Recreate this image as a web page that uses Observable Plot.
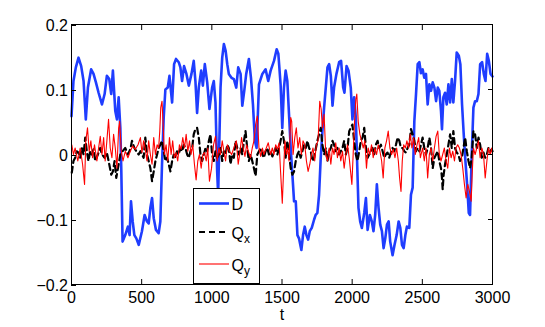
<!DOCTYPE html>
<html><head><meta charset="utf-8">
<script src="https://cdn.jsdelivr.net/npm/d3@7"></script>
<script src="https://cdn.jsdelivr.net/npm/@observablehq/plot@0.6"></script>
<style>
body{margin:0;background:#fff;}
#wrap{position:relative;width:545px;height:327px;font-family:"Liberation Sans",Arial,sans-serif;}
#legend{position:absolute;left:192px;top:188px;}
</style></head><body><div id="wrap"></div>
<script>
const D = [[0,0.059],[14,0.113],[31,0.134],[50,0.149],[69,0.136],[86,0.113],[102,0.054],[117,0.103],[140,0.131],[157,0.124],[174,0.111],[193,0.095],[217,0.077],[236,0.093],[252,0.121],[269,0.116],[283,0.093],[295,0.129],[312,0.067],[324,0.054],[336,0.088],[348,0.041],[355,-0.026],[364,-0.134],[383,-0.124],[402,-0.111],[414,-0.124],[424,-0.072],[436,-0.103],[448,-0.124],[462,-0.129],[479,-0.139],[502,-0.118],[521,-0.093],[538,-0.103],[550,-0.106],[562,-0.082],[574,-0.067],[586,-0.098],[602,-0.116],[621,-0.121],[633,-0.103],[645,-0.015],[657,0.057],[669,0.100],[686,0.103],[698,0.121],[717,0.080],[731,0.139],[745,0.147],[764,0.142],[776,0.134],[788,0.113],[802,0.136],[819,0.124],[836,0.106],[855,0.124],[871,0.144],[883,0.113],[895,0.064],[907,0.103],[924,0.129],[936,0.106],[950,0.139],[967,0.111],[983,0.070],[1002,0.103],[1014,0.113],[1026,0.080],[1038,-0.026],[1045,-0.062],[1062,0.103],[1074,0.149],[1086,0.170],[1098,0.160],[1110,0.139],[1121,0.124],[1140,0.118],[1157,0.116],[1174,0.103],[1188,0.134],[1205,0.124],[1217,0.075],[1231,0.098],[1245,0.124],[1264,0.147],[1279,0.118],[1293,0.077],[1307,0.021],[1319,0.010],[1336,0.108],[1360,0.124],[1383,0.131],[1402,0.113],[1419,0.129],[1443,0.144],[1462,0.162],[1474,0.155],[1490,0.108],[1502,0.041],[1514,0.103],[1526,0.129],[1538,0.113],[1550,0.062],[1562,0.010],[1574,-0.031],[1586,-0.072],[1598,-0.072],[1610,-0.124],[1621,-0.129],[1638,-0.147],[1650,-0.124],[1662,-0.111],[1674,-0.124],[1686,-0.131],[1698,-0.118],[1712,-0.113],[1729,-0.100],[1740,-0.093],[1752,-0.090],[1764,-0.062],[1776,-0.005],[1788,0.036],[1800,0.072],[1812,0.103],[1824,0.134],[1836,0.139],[1848,0.121],[1860,0.075],[1871,0.103],[1888,0.124],[1907,0.142],[1921,0.144],[1936,0.103],[1945,0.095],[1960,0.136],[1974,0.129],[1990,0.103],[2002,0.054],[2014,0.088],[2026,0.057],[2045,-0.082],[2057,-0.103],[2069,-0.113],[2086,-0.090],[2098,-0.067],[2110,-0.116],[2126,-0.093],[2140,-0.103],[2152,-0.118],[2164,-0.093],[2176,-0.046],[2188,-0.082],[2200,-0.108],[2212,-0.118],[2224,-0.144],[2236,-0.129],[2248,-0.108],[2260,-0.103],[2271,-0.134],[2288,-0.155],[2302,-0.139],[2317,-0.124],[2331,-0.103],[2343,-0.113],[2355,-0.139],[2367,-0.144],[2379,-0.124],[2390,-0.111],[2407,-0.113],[2419,-0.062],[2431,-0.051],[2443,0.051],[2455,0.093],[2467,0.139],[2479,0.142],[2490,0.125],[2502,0.131],[2514,0.118],[2526,0.124],[2538,0.077],[2550,0.108],[2562,0.098],[2574,0.111],[2586,0.103],[2598,0.082],[2610,0.103],[2621,0.098],[2633,0.067],[2640,0.039],[2650,0.088],[2662,0.095],[2674,0.077],[2686,0.108],[2698,0.080],[2710,0.116],[2721,0.080],[2733,0.113],[2745,0.157],[2760,0.152],[2771,0.139],[2783,0.077],[2795,0.031],[2807,-0.010],[2819,-0.046],[2831,-0.090],[2840,-0.093],[2852,0.000],[2864,0.072],[2876,0.082],[2888,0.082],[2900,0.093],[2912,0.139],[2926,0.142],[2938,0.124],[2950,0.113],[2962,0.155],[2974,0.144],[2986,0.124],[3000,0.120]];

const Qx = [[2,-0.028],[14,-0.010],[26,-0.005],[38,0.005],[50,0.003],[62,-0.005],[74,0.010],[86,0],[98,0.026],[109,0.005],[121,-0.010],[133,0.005],[145,0],[157,0.008],[169,-0.010],[188,0],[205,0.010],[217,0],[236,-0.005],[252,0.003],[269,-0.015],[283,-0.031],[295,-0.026],[307,-0.010],[319,-0.036],[331,-0.021],[348,0],[364,0.005],[383,0.010],[402,0],[419,0.008],[431,0.021],[448,0.010],[467,0.003],[479,0],[491,0.005],[502,0],[514,-0.005],[526,0.026],[538,0],[550,-0.010],[562,-0.021],[574,-0.041],[586,-0.026],[598,-0.010],[610,0],[621,0.010],[633,0.015],[645,0.021],[657,0.005],[669,-0.010],[681,-0.005],[693,-0.015],[705,-0.026],[717,-0.010],[729,0],[740,-0.005],[752,0.005],[764,0],[776,0.010],[788,0.005],[800,0.015],[812,0.010],[824,0],[836,-0.005],[848,0.005],[860,0.010],[871,0.031],[883,0.039],[895,0.041],[907,0.026],[919,0],[931,-0.010],[943,0],[955,0.010],[967,0.005],[979,0.021],[990,0.031],[1002,0],[1014,-0.010],[1026,0.005],[1038,-0.005],[1050,0],[1062,0.010],[1074,-0.010],[1086,0.005],[1098,0],[1110,0.015],[1121,0.010],[1133,-0.015],[1145,0],[1157,-0.005],[1169,0.021],[1181,0.010],[1193,0],[1205,0.010],[1217,0],[1229,0.021],[1240,0.036],[1252,0.010],[1264,-0.010],[1276,0],[1288,-0.010],[1300,-0.021],[1312,-0.033],[1324,0],[1336,0.005],[1348,0.010],[1360,0],[1371,-0.005],[1383,0.005],[1395,0.010],[1407,0],[1419,0.005],[1431,-0.003],[1443,0.003],[1455,0.010],[1467,0],[1479,0.010],[1490,0.021],[1502,0.036],[1514,0.021],[1526,-0.005],[1538,0.021],[1550,0],[1562,-0.021],[1574,-0.031],[1586,-0.026],[1598,-0.010],[1610,0],[1621,0.005],[1633,-0.005],[1645,0.005],[1657,0.015],[1669,0.010],[1681,0.021],[1693,0.010],[1705,0.005],[1717,-0.010],[1729,-0.005],[1740,0.008],[1752,0.021],[1764,0.031],[1776,0.041],[1788,0.015],[1800,0],[1812,0.010],[1824,-0.010],[1836,0.005],[1848,0.010],[1860,0.021],[1871,0.015],[1883,0.005],[1895,0.010],[1907,0],[1919,0.005],[1931,0.010],[1943,0.021],[1955,0],[1967,0.010],[1979,0.036],[1990,0.041],[2002,0.046],[2014,0.021],[2026,0],[2038,-0.010],[2050,0.005],[2062,0.021],[2074,0.026],[2086,0.041],[2098,0.010],[2110,-0.005],[2121,0],[2133,0.005],[2145,0.010],[2157,0],[2169,0.015],[2181,0.021],[2193,0.010],[2205,0.015],[2217,0.005],[2229,-0.005],[2240,0],[2252,0.003],[2264,-0.005],[2276,0.003],[2288,0.010],[2300,0.005],[2312,0.015],[2324,0.026],[2336,0.021],[2348,0.010],[2360,0.010],[2371,0.005],[2383,0.003],[2395,0.010],[2407,0.015],[2419,0.039],[2431,0.031],[2443,0.021],[2455,0.005],[2467,0.010],[2479,0.005],[2490,0.015],[2502,0.026],[2514,0.010],[2526,0],[2538,0.010],[2550,0.026],[2562,0.010],[2574,-0.021],[2586,-0.005],[2598,0],[2610,0.005],[2621,-0.010],[2633,-0.021],[2640,-0.036],[2645,-0.054],[2652,-0.031],[2662,-0.015],[2674,0],[2686,0.015],[2698,0.031],[2710,0.010],[2721,0.036],[2733,0.010],[2745,0.003],[2757,0],[2769,-0.010],[2781,-0.005],[2793,0.010],[2805,0.026],[2817,0.005],[2829,-0.010],[2840,-0.021],[2852,-0.005],[2864,0.036],[2876,0.031],[2888,0.010],[2900,0.026],[2912,0.015],[2924,-0.005],[2936,0.003],[2948,-0.005],[2960,0],[2971,0.010],[2983,0.005],[2995,0.008],[3000,0.005]];

const Qy = [[2,0.015],[14,0],[26,0.010],[45,-0.010],[62,0.010],[79,-0.015],[93,-0.046],[102,0.021],[114,0.041],[126,0.005],[138,0.021],[150,-0.005],[164,0.015],[181,-0.010],[193,0.010],[205,0.028],[217,0],[229,0.026],[240,-0.010],[252,0.021],[264,0.054],[276,0.010],[288,-0.005],[300,0.031],[312,0.010],[324,-0.021],[336,0.041],[343,0.051],[355,0.005],[367,-0.010],[383,0.005],[402,-0.005],[419,0.005],[436,0.013],[455,0.008],[474,0.015],[491,0.026],[502,0.003],[514,0.021],[526,0.008],[538,-0.010],[550,0.021],[562,0],[574,-0.015],[586,0.026],[598,0],[610,0.015],[621,0.010],[629,0.036],[636,0.072],[645,0.082],[652,0.051],[662,0],[674,0.015],[686,-0.010],[698,0.026],[710,0],[721,0.021],[733,-0.005],[745,0.003],[757,-0.010],[769,0.015],[781,0.008],[793,0.026],[805,0.010],[817,0.031],[829,0.005],[841,0.021],[852,0],[864,0.015],[876,-0.015],[888,-0.039],[900,-0.010],[912,0],[924,-0.021],[936,0],[948,0.003],[960,-0.010],[971,0.010],[983,-0.041],[998,-0.021],[1012,0.015],[1026,0.028],[1038,-0.010],[1050,0.010],[1062,0],[1074,0.021],[1086,0.005],[1098,-0.010],[1110,0.015],[1126,0.005],[1141,0],[1157,0.010],[1174,0.021],[1188,-0.015],[1200,0.003],[1212,0.026],[1224,0.010],[1236,-0.003],[1248,0.015],[1260,0.005],[1276,-0.005],[1288,0.010],[1300,0.021],[1312,0.046],[1324,0.059],[1336,0.010],[1348,-0.003],[1360,0.010],[1371,0],[1388,0.010],[1402,0.018],[1419,0],[1431,0.010],[1443,0],[1455,0.015],[1467,0.008],[1479,0.018],[1491,-0.031],[1502,-0.075],[1512,-0.021],[1521,0.021],[1531,0],[1541,0.010],[1550,-0.010],[1562,0.057],[1569,0.051],[1579,0],[1591,0.026],[1602,0.041],[1614,0.010],[1626,0.026],[1638,0],[1650,0.021],[1662,0.015],[1674,-0.010],[1686,-0.026],[1698,-0.015],[1710,0],[1721,0.010],[1733,-0.010],[1745,0.015],[1757,0.021],[1769,0.082],[1779,0.070],[1788,0.041],[1800,0.062],[1812,0],[1824,-0.010],[1836,0.010],[1848,-0.015],[1860,0.010],[1871,0],[1883,0.018],[1895,-0.005],[1907,0.010],[1919,-0.010],[1931,0.005],[1943,-0.021],[1955,0],[1967,0.015],[1979,-0.005],[1991,-0.031],[1998,-0.046],[2007,0],[2017,0.051],[2026,0.085],[2033,0.093],[2043,0.051],[2055,0.031],[2067,0.021],[2079,0.010],[2090,0.021],[2102,-0.021],[2114,0.010],[2126,0],[2138,0.015],[2150,-0.005],[2162,0.010],[2174,0],[2186,0.015],[2198,0.005],[2210,-0.010],[2221,-0.036],[2233,0.010],[2245,0.021],[2257,0.036],[2269,0.010],[2281,0],[2293,0.008],[2305,-0.005],[2317,0.010],[2329,-0.010],[2338,-0.036],[2348,-0.057],[2357,-0.010],[2367,0.015],[2379,0.010],[2390,0.021],[2402,0.010],[2414,0.031],[2426,0.010],[2438,0.026],[2450,0],[2462,0.015],[2474,0.026],[2486,-0.005],[2502,0.010],[2514,-0.010],[2526,0.010],[2538,-0.036],[2550,0],[2562,0.010],[2574,-0.010],[2586,0.010],[2598,0.028],[2610,0.036],[2621,0],[2633,-0.010],[2645,0],[2657,0.010],[2669,-0.010],[2681,-0.021],[2693,0.010],[2705,-0.005],[2717,0.005],[2729,-0.010],[2740,0.010],[2752,0.015],[2764,0.010],[2776,0],[2788,-0.021],[2800,-0.046],[2812,-0.067],[2824,-0.046],[2836,-0.057],[2848,-0.072],[2855,-0.031],[2864,0.010],[2876,0],[2888,0.010],[2900,0.021],[2912,-0.005],[2924,0.010],[2936,0],[2948,-0.036],[2960,-0.010],[2971,0.010],[2983,0],[2995,0.010],[3000,0]];

const xTicks = [0, 500, 1000, 1500, 2000, 2500, 3000];
const yTicks = [-0.2, -0.1, 0, 0.1, 0.2];
const yTickLabels = ["\u22120.2", "\u22120.1", "0", "0.1", "0.2"];
const xLabel = "t";
const legendMain = ["D", "Q", "Q"];
const legendSub = ["", "x", "y"];
const seriesColors = ["#1f3dff", "#000000", "#ff0000"];

const rows = arr => arr.map(([t, v]) => ({t, v}));
const font = "'Liberation Sans', Arial, Helvetica, sans-serif";

const chart = Plot.plot({
  width: 545, height: 327,
  marginLeft: 71, marginRight: 53, marginTop: 24, marginBottom: 43,
  style: {fontFamily: font, fontSize: "16px", background: "#fff", color: "#000"},
  x: {domain: [0, 3000]},
  y: {domain: [-0.2, 0.2]},
  marks: [
    Plot.line(rows(D), {x: "t", y: "v", stroke: seriesColors[0], strokeWidth: 2.6, strokeLinejoin: "round"}),
    Plot.line(rows(Qx), {x: "t", y: "v", stroke: seriesColors[1], strokeWidth: 2.2, strokeDasharray: "6,4"}),
    Plot.line(rows(Qy), {x: "t", y: "v", stroke: seriesColors[2], strokeWidth: 1.1}),
    Plot.frame({stroke: "#000", strokeWidth: 1}),
    Plot.axisX(xTicks, {anchor: "bottom", tickSize: -5, tickPadding: 12.5, label: null, tickFormat: d => String(d)}),
    Plot.axisX(xTicks, {anchor: "top", tickSize: -5, label: null, tickFormat: () => ""}),
    Plot.axisY(yTicks, {anchor: "left", tickSize: -5, tickPadding: 8.5, label: null, dy: 1,
      tickFormat: d => yTickLabels[yTicks.findIndex(v => Math.abs(v - d) < 1e-9)]}),
    Plot.axisY(yTicks, {anchor: "right", tickSize: -5, label: null, tickFormat: () => ""}),
    Plot.text([xLabel], {frameAnchor: "bottom", dy: 35, text: d => d, fontSize: 16})
  ]
});

const wrap = document.getElementById("wrap");
wrap.appendChild(chart);

// Legend box (MATLAB-style), built from the series arrays
const legendY = [15.5, 44, 76];
const ns = "http://www.w3.org/2000/svg";
const lg = d3.create("svg").attr("id", "legend").attr("width", 68).attr("height", 97)
  .style("font-family", font);
lg.append("rect").attr("x", 1.5).attr("y", 0.5).attr("width", 66).attr("height", 95)
  .attr("fill", "#fff").attr("stroke", "#000").attr("stroke-width", 1);
legendMain.forEach((m, i) => {
  const g = lg.append("g");
  g.append("line").attr("x1", 7).attr("x2", 37).attr("y1", legendY[i]).attr("y2", legendY[i])
    .attr("stroke", seriesColors[i])
    .attr("stroke-width", i === 0 ? 2.6 : i === 1 ? 2.2 : 1.1)
    .attr("stroke-dasharray", i === 1 ? "6,4" : null);
  const t = g.append("text").attr("x", 39.5).attr("y", legendY[i] + 6.5).attr("font-size", 16).text(m);
  if (legendSub[i]) t.append("tspan").attr("dy", 4).attr("font-size", 12).text(legendSub[i]);
});
wrap.appendChild(lg.node());
</script></body></html>
